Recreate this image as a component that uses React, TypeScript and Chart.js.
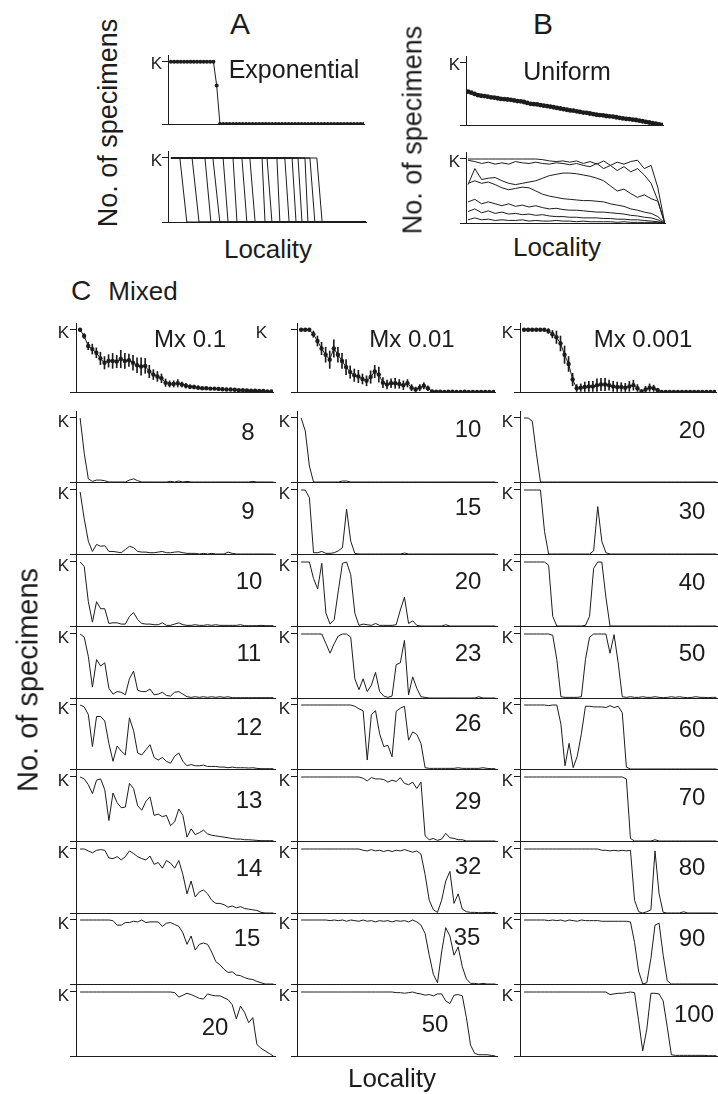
import React, { useEffect, useRef } from "react";
import { Chart, registerables } from "chart.js";
Chart.register(...registerables);

const FONT = "'Liberation Sans', Arial, Helvetica, sans-serif";
const INK = "#1c1c1c";
const YMAX = 71 / 64;

// ---------- Panel A (exponential) ----------
const expMean = [1, 1, 1, 1, 1, 1, 1, 1, 1, 1, 1, 1, 1, 1, 0.62, 0, 0, 0, 0, 0, 0, 0, 0, 0, 0, 0, 0, 0, 0, 0, 0, 0, 0, 0, 0, 0, 0, 0, 0, 0, 0, 0, 0, 0, 0, 0, 0, 0, 0, 0, 0, 0, 0, 0, 0, 0, 0, 0, 0, 0];
const expFrontStart = [2.7, 6.4, 10.3, 12.7, 15.8, 18.8, 21.5, 23.9, 27.6, 29.1, 32.1, 34.5, 36.7, 38.5, 40.6, 42.1, 44.2];
const expFrontEnd = [4.8, 8.5, 12.1, 14.8, 17.3, 20.0, 23.0, 25.5, 28.5, 30.6, 33.0, 35.8, 37.9, 39.7, 41.5, 43.6, 45.8];
const expLastLocality = 59;

// ---------- Panel B (uniform) ----------
const uniMean = [0.535, 0.52, 0.5, 0.48, 0.47, 0.465, 0.455, 0.445, 0.44, 0.43, 0.42, 0.415, 0.41, 0.405, 0.395, 0.385, 0.38, 0.37, 0.355, 0.34, 0.335, 0.33, 0.32, 0.31, 0.305, 0.295, 0.285, 0.275, 0.265, 0.255, 0.245, 0.235, 0.23, 0.22, 0.21, 0.2, 0.195, 0.185, 0.175, 0.165, 0.16, 0.155, 0.145, 0.14, 0.135, 0.125, 0.115, 0.105, 0.1, 0.095, 0.085, 0.08, 0.07, 0.06, 0.05, 0.04, 0.03, 0.02, 0.01, 0.0];
const uni1 = [1, 1, 1, 1, 1, 1, 1, 1, 1, 1, 1, 0.99, 0.97, 0.96, 0.97, 0.95, 0.97, 0.93, 0.96, 0.92, 0.97, 0.9, 0.95, 0.92, 0.96, 0.98, 0.85, 0.9, 0.55, 0];
const uni2 = [0.98, 0.96, 0.93, 0.95, 0.92, 0.94, 0.92, 0.96, 0.94, 0.93, 0.95, 0.93, 0.92, 0.94, 0.93, 0.91, 0.93, 0.9, 0.88, 0.93, 0.85, 0.9, 0.82, 0.88, 0.8, 0.85, 0.75, 0.62, 0.35, 0];
const uni3 = [0.6, 0.85, 0.68, 0.7, 0.71, 0.66, 0.62, 0.6, 0.62, 0.64, 0.66, 0.7, 0.74, 0.76, 0.78, 0.78, 0.77, 0.75, 0.73, 0.7, 0.66, 0.58, 0.5, 0.53, 0.46, 0.4, 0.44, 0.38, 0.34, 0];
const uni4 = [0.62, 0.66, 0.62, 0.64, 0.6, 0.55, 0.52, 0.54, 0.56, 0.55, 0.5, 0.45, 0.42, 0.4, 0.38, 0.37, 0.36, 0.35, 0.35, 0.34, 0.33, 0.3, 0.28, 0.26, 0.22, 0.2, 0.17, 0.15, 0.1, 0];
const uni5 = [0.33, 0.37, 0.3, 0.33, 0.3, 0.27, 0.3, 0.26, 0.28, 0.25, 0.27, 0.24, 0.22, 0.23, 0.21, 0.2, 0.2, 0.19, 0.18, 0.17, 0.17, 0.16, 0.15, 0.14, 0.12, 0.11, 0.09, 0.08, 0.05, 0];
const uni6 = [0.18, 0.22, 0.16, 0.19, 0.15, 0.17, 0.14, 0.15, 0.13, 0.14, 0.12, 0.13, 0.11, 0.1, 0.1, 0.09, 0.09, 0.08, 0.08, 0.08, 0.07, 0.07, 0.06, 0.06, 0.05, 0.05, 0.04, 0.03, 0.02, 0];
const uni7 = [0.05, 0.08, 0.05, 0.06, 0.04, 0.05, 0.04, 0.04, 0.05, 0.03, 0.04, 0.03, 0.03, 0.04, 0.03, 0.03, 0.02, 0.03, 0.02, 0.02, 0.02, 0.02, 0.01, 0.02, 0.01, 0.01, 0.01, 0.01, 0.01, 0];

// ---------- Panel C (mixed) : mean +/- error, top row ----------
const mx01Mean = [1.0, 0.9, 0.74, 0.69, 0.63, 0.54, 0.47, 0.5, 0.5, 0.49, 0.53, 0.5, 0.51, 0.47, 0.43, 0.41, 0.42, 0.33, 0.28, 0.25, 0.22, 0.15, 0.13, 0.13, 0.14, 0.12, 0.1, 0.085, 0.08, 0.07, 0.06, 0.06, 0.055, 0.055, 0.05, 0.045, 0.04, 0.04, 0.035, 0.03, 0.03, 0.025, 0.02, 0.02, 0.015, 0.015, 0.01, 0.01];
const mx01Err = [0.02, 0.04, 0.06, 0.08, 0.08, 0.1, 0.1, 0.1, 0.12, 0.1, 0.14, 0.12, 0.1, 0.12, 0.12, 0.14, 0.12, 0.1, 0.08, 0.08, 0.07, 0.06, 0.05, 0.05, 0.06, 0.04, 0.04, 0.03, 0.03, 0.03, 0.02, 0.02, 0.02, 0.02, 0.02, 0.02, 0.015, 0.015, 0.01, 0.01, 0.01, 0.01, 0.01, 0.01, 0.005, 0.005, 0.005, 0.005];
const mx001Mean = [1, 1, 1, 0.93, 0.82, 0.7, 0.6, 0.52, 0.7, 0.6, 0.5, 0.4, 0.32, 0.27, 0.25, 0.21, 0.18, 0.24, 0.33, 0.28, 0.15, 0.12, 0.14, 0.14, 0.13, 0.11, 0.14, 0.07, 0.04, 0.07, 0.1, 0.06, 0.01, 0.005, 0.005, 0, 0.005, 0.005, 0, 0, 0.005, 0, 0, 0, 0, 0, 0, 0];
const mx001Err = [0.01, 0.01, 0.02, 0.05, 0.08, 0.1, 0.12, 0.14, 0.14, 0.12, 0.12, 0.12, 0.1, 0.1, 0.1, 0.08, 0.08, 0.1, 0.1, 0.12, 0.08, 0.07, 0.07, 0.08, 0.07, 0.07, 0.06, 0.05, 0.04, 0.05, 0.05, 0.04, 0.02, 0, 0, 0, 0, 0, 0, 0, 0, 0, 0, 0, 0, 0, 0, 0];
const mx0001Mean = [1, 1, 1, 1, 1, 1, 0.98, 0.93, 0.88, 0.78, 0.6, 0.45, 0.2, 0.06, 0.07, 0.08, 0.09, 0.09, 0.11, 0.12, 0.12, 0.11, 0.09, 0.08, 0.08, 0.07, 0.09, 0.11, 0.06, 0.01, 0.04, 0.07, 0.06, 0.03, 0, 0, 0, 0, 0, 0, 0, 0, 0, 0, 0, 0, 0, 0];
const mx0001Err = [0.005, 0.005, 0.005, 0.005, 0.01, 0.02, 0.04, 0.06, 0.1, 0.12, 0.14, 0.12, 0.1, 0.06, 0.06, 0.08, 0.08, 0.08, 0.1, 0.1, 0.1, 0.08, 0.08, 0.08, 0.07, 0.07, 0.08, 0.08, 0.06, 0.03, 0.05, 0.06, 0.05, 0.03, 0, 0, 0, 0, 0, 0, 0, 0, 0, 0, 0, 0, 0, 0];

// ---------- Panel C : single runs, Mx 0.1 ----------
const c1t8 = [1.0, 0.45, 0.05, 0.01, 0.03, 0.03, 0.02, 0, 0, 0, 0, 0, 0.03, 0.05, 0.02, 0, 0, 0, 0, 0, 0, 0, 0.01, 0, 0.015, 0, 0.01, 0, 0, 0, 0, 0, 0, 0, 0, 0, 0, 0, 0, 0, 0, 0, 0.01, 0, 0, 0, 0, 0];
const c1t9 = [0.97, 0.55, 0.2, 0.04, 0.15, 0.12, 0.13, 0.04, 0.04, 0.03, 0.02, 0.07, 0.12, 0.1, 0.04, 0.03, 0.03, 0.02, 0.02, 0.03, 0.04, 0.02, 0.02, 0.03, 0.035, 0.02, 0.01, 0.01, 0.01, 0, 0.01, 0, 0.01, 0, 0, 0, 0.03, 0.01, 0, 0, 0, 0, 0, 0, 0, 0, 0, 0];
const c1t10 = [1.0, 0.93, 0.38, 0.06, 0.38, 0.27, 0.27, 0.04, 0.05, 0.05, 0.03, 0.03, 0.15, 0.21, 0.1, 0.04, 0.03, 0.03, 0.02, 0.02, 0.05, 0.01, 0.01, 0.03, 0.05, 0.02, 0.01, 0.01, 0.02, 0.01, 0.01, 0.02, 0.01, 0.02, 0.01, 0.01, 0.01, 0.01, 0.01, 0.02, 0.005, 0.005, 0.005, 0.005, 0.01, 0.005, 0.005, 0.005];
const c1t11 = [1.0, 0.95, 0.65, 0.17, 0.6, 0.5, 0.55, 0.15, 0.06, 0.1, 0.09, 0.05, 0.3, 0.42, 0.12, 0.1, 0.1, 0.14, 0.05, 0.06, 0.09, 0.04, 0.03, 0.09, 0.1, 0.06, 0.02, 0.01, 0.02, 0.01, 0.02, 0.01, 0.02, 0.01, 0.02, 0.01, 0.02, 0.005, 0.005, 0.005, 0.005, 0.005, 0.005, 0.005, 0.005, 0.005, 0.005, 0.005];
const c1t12 = [1.0, 0.97, 0.85, 0.35, 0.82, 0.82, 0.75, 0.4, 0.12, 0.36, 0.28, 0.22, 0.8, 0.6, 0.25, 0.22, 0.3, 0.38, 0.18, 0.14, 0.18, 0.12, 0.09, 0.2, 0.25, 0.12, 0.05, 0.07, 0.05, 0.05, 0.06, 0.04, 0.04, 0.04, 0.03, 0.03, 0.02, 0.03, 0.02, 0.02, 0.02, 0.015, 0.02, 0.01, 0.005, 0.005, 0.005, 0.005];
const c1t13 = [1.0, 0.97, 0.88, 0.74, 0.95, 0.97, 0.8, 0.32, 0.75, 0.6, 0.52, 0.53, 0.9, 0.82, 0.55, 0.48, 0.62, 0.69, 0.4, 0.42, 0.38, 0.4, 0.24, 0.3, 0.5, 0.4, 0.06, 0.19, 0.1, 0.13, 0.17, 0.11, 0.09, 0.08, 0.07, 0.06, 0.05, 0.04, 0.03, 0.03, 0.02, 0.02, 0.015, 0.01, 0.005, 0.005, 0.005, 0.005];
const c1t14 = [1.0, 1.0, 0.97, 0.94, 0.98, 0.99, 0.98, 0.86, 0.85, 0.88, 0.83, 0.88, 0.97, 0.93, 0.88, 0.85, 0.83, 0.89, 0.76, 0.79, 0.7, 0.82, 0.78, 0.7, 0.82, 0.6, 0.3, 0.5, 0.25, 0.33, 0.36, 0.3, 0.2, 0.15, 0.15, 0.13, 0.09, 0.11, 0.08, 0.1, 0.07, 0.06, 0.05, 0.04, 0.01, 0, 0, 0];
const c1t15 = [1, 1, 1, 1, 1, 1, 1, 1.0, 0.99, 0.92, 0.92, 0.96, 0.96, 0.98, 0.97, 1.0, 0.96, 0.97, 0.97, 0.97, 0.9, 0.95, 0.96, 0.93, 0.9, 0.8, 0.62, 0.75, 0.53, 0.62, 0.64, 0.62, 0.5, 0.35, 0.3, 0.23, 0.18, 0.19, 0.14, 0.13, 0.1, 0.08, 0.07, 0.04, 0.02, 0, 0, 0];
const c1t20 = [1, 1, 1, 1, 1, 1, 1, 1, 1, 1, 1, 1, 1, 1, 1, 1, 1, 1, 1, 1, 1, 1, 1, 0.99, 0.92, 0.95, 0.98, 0.96, 0.93, 0.9, 0.89, 0.97, 0.95, 0.94, 0.94, 0.91, 0.88, 0.8, 0.58, 0.78, 0.68, 0.52, 0.6, 0.18, 0.12, 0.08, 0.04, 0.0];

// ---------- Panel C : single runs, Mx 0.01 ----------
const c2t10 = [1.0, 0.8, 0.25, 0, 0, 0, 0, 0, 0, 0, 0.015, 0.015, 0, 0, 0, 0, 0, 0, 0, 0, 0, 0, 0, 0, 0, 0, 0, 0, 0, 0, 0, 0, 0, 0, 0, 0, 0, 0, 0, 0, 0, 0, 0, 0, 0, 0, 0, 0];
const c2t15 = [1.0, 1.0, 0.88, 0.02, 0.02, 0.04, 0.01, 0.01, 0.02, 0.05, 0.1, 0.7, 0.2, 0.01, 0, 0, 0, 0, 0, 0, 0, 0, 0, 0, 0, 0.015, 0, 0, 0, 0, 0, 0, 0, 0, 0, 0, 0, 0, 0, 0, 0, 0, 0, 0, 0, 0, 0, 0];
const c2t20 = [1.0, 1.0, 1.0, 0.74, 0.58, 0.98, 0.2, 0.03, 0.1, 0.55, 0.98, 1.0, 0.8, 0.2, 0.01, 0.03, 0.02, 0.01, 0.04, 0.01, 0.01, 0.01, 0.01, 0.02, 0.25, 0.45, 0.04, 0.08, 0.01, 0, 0, 0, 0, 0, 0, 0.02, 0, 0, 0, 0, 0, 0, 0, 0, 0, 0, 0, 0];
const c2t23 = [1, 1, 1, 1, 1, 1, 0.85, 0.7, 0.85, 0.97, 1.0, 1.0, 0.95, 0.3, 0.13, 0.3, 0.1, 0.2, 0.4, 0.1, 0.03, 0.01, 0.03, 0.52, 0.55, 0.9, 0.05, 0.33, 0.15, 0.02, 0.01, 0, 0, 0, 0, 0, 0, 0, 0, 0, 0, 0, 0, 0.02, 0, 0, 0, 0];
const c2t26 = [1, 1, 1, 1, 1, 1, 1, 1, 1, 1, 1, 1, 1, 0.98, 0.94, 0.91, 0.14, 0.85, 0.91, 0.55, 0.35, 0.37, 0.19, 0.9, 0.95, 0.98, 0.45, 0.58, 0.54, 0.4, 0.02, 0.01, 0.01, 0.01, 0.01, 0.01, 0.01, 0.01, 0.02, 0.01, 0.01, 0.01, 0.01, 0.01, 0.02, 0.01, 0.005, 0.005];
const c2t29 = [1, 1, 1, 1, 1, 1, 1, 1, 1, 1, 1, 1, 1, 1, 1, 0.98, 0.94, 0.99, 0.97, 0.97, 0.96, 0.92, 0.95, 0.93, 0.99, 0.9, 0.88, 0.92, 0.82, 0.92, 0.08, 0.02, 0.04, 0.01, 0.03, 0.12, 0.05, 0.04, 0.02, 0.02, 0, 0, 0, 0, 0, 0, 0, 0];
const c2t32 = [1, 1, 1, 1, 1, 1, 1, 1, 1, 1, 1, 1, 1, 1, 1, 0.98, 0.97, 0.99, 0.97, 0.98, 0.96, 0.98, 0.96, 0.98, 0.97, 0.99, 0.97, 0.95, 0.97, 0.92, 0.6, 0.2, 0.05, 0.01, 0.2, 0.5, 0.65, 0.15, 0.3, 0.06, 0.02, 0.01, 0.01, 0.005, 0.005, 0.01, 0.005, 0.01];
const c2t35 = [1, 1, 1, 1, 1, 1, 1, 0.99, 1.0, 0.99, 1.0, 0.98, 1.0, 0.99, 0.98, 1.0, 0.98, 0.99, 0.97, 0.99, 0.98, 0.99, 0.97, 0.99, 0.98, 0.99, 0.97, 1.0, 0.97, 0.92, 0.79, 0.45, 0.15, 0.02, 0.5, 0.88, 0.75, 0.45, 0.58, 0.27, 0.08, 0.01, 0.01, 0, 0.01, 0, 0, 0];
const c2t50 = [1, 1, 1, 1, 1, 1, 1, 1, 1, 1, 1, 1, 1, 1, 1, 1, 1, 1, 1, 1, 1, 1, 1, 0.99, 0.99, 0.98, 0.99, 1.0, 0.98, 0.97, 0.95, 0.96, 0.94, 0.97, 0.97, 0.86, 0.82, 0.95, 0.96, 0.94, 0.6, 0.17, 0.04, 0.02, 0.02, 0.02, 0.01, 0];

// ---------- Panel C : single runs, Mx 0.001 ----------
const c3t20 = [1.0, 1.0, 0.95, 0.45, 0, 0, 0, 0, 0, 0, 0, 0, 0, 0, 0, 0, 0, 0, 0, 0, 0, 0, 0, 0, 0, 0, 0, 0, 0, 0, 0, 0, 0, 0, 0, 0, 0, 0, 0, 0, 0, 0, 0, 0, 0, 0, 0, 0];
const c3t30 = [1, 1, 1, 1, 1, 0.35, 0, 0, 0, 0, 0, 0, 0, 0, 0, 0, 0, 0.05, 0.74, 0.2, 0.02, 0, 0, 0, 0, 0, 0, 0, 0, 0, 0, 0, 0, 0, 0, 0, 0, 0, 0, 0, 0, 0, 0, 0, 0, 0, 0, 0];
const c3t40 = [1, 1, 1, 1, 1, 1, 0.95, 0.15, 0, 0, 0, 0, 0, 0, 0, 0.01, 0.15, 0.9, 1.0, 1.0, 0.45, 0, 0, 0, 0, 0, 0, 0, 0, 0, 0, 0, 0, 0, 0, 0, 0, 0, 0, 0, 0, 0, 0, 0, 0, 0, 0, 0];
const c3t50 = [1, 1, 1, 1, 1, 1, 1, 0.98, 0.6, 0.02, 0.01, 0.01, 0.01, 0.01, 0.02, 0.6, 0.95, 1.0, 1.0, 1.0, 1.0, 0.7, 0.99, 0.55, 0.02, 0.01, 0.02, 0.01, 0.01, 0.02, 0.01, 0.01, 0.02, 0.01, 0.005, 0.01, 0.02, 0.01, 0.02, 0.01, 0.005, 0.01, 0.02, 0.01, 0.01, 0.005, 0.01, 0.01];
const c3t60 = [1, 1, 1, 1, 1, 1, 0.99, 1.0, 1.0, 0.7, 0.05, 0.4, 0.02, 0.2, 0.55, 0.98, 0.98, 0.97, 0.97, 0.97, 0.96, 0.99, 0.96, 0.98, 0.88, 0.03, 0, 0, 0, 0, 0, 0, 0, 0, 0, 0, 0, 0, 0, 0, 0, 0, 0, 0, 0, 0, 0, 0];
const c3t70 = [1, 1, 1, 1, 1, 1, 1, 1, 1, 1, 1, 1, 1, 1, 1, 1, 1, 1, 1, 1, 1, 1, 1, 1, 1, 0.97, 0.04, 0, 0, 0, 0, 0, 0.02, 0, 0, 0, 0, 0, 0, 0, 0, 0, 0, 0, 0, 0, 0, 0];
const c3t80 = [1, 1, 1, 1, 1, 1, 1, 1, 1, 1, 1, 1, 1, 1, 1, 1, 1, 1, 1, 0.98, 0.98, 0.97, 0.98, 0.97, 0.98, 0.97, 0.98, 0.2, 0.02, 0, 0.02, 0.05, 0.97, 0.3, 0.01, 0, 0, 0, 0, 0.02, 0, 0, 0, 0, 0, 0, 0, 0];
const c3t90 = [1, 1, 1, 1, 1, 1, 0.99, 1.0, 0.99, 1.0, 0.98, 1.0, 0.99, 0.98, 1.0, 0.99, 0.99, 0.99, 0.99, 0.98, 0.98, 0.98, 0.98, 0.98, 0.98, 0.98, 0.97, 0.65, 0.2, 0.0, 0.02, 0.4, 0.92, 0.95, 0.45, 0.05, 0, 0, 0, 0, 0, 0, 0, 0, 0, 0, 0, 0];
const c3t100 = [1, 1, 1, 1, 1, 1, 1, 1, 1, 1, 1, 1, 1, 1, 1, 1, 1, 1, 1, 1, 1, 0.96, 0.97, 0.98, 0.98, 0.99, 1.0, 0.99, 0.55, 0.08, 0.42, 0.98, 0.98, 0.97, 0.86, 0.45, 0.02, 0.01, 0.01, 0.01, 0.01, 0.01, 0.01, 0.01, 0.01, 0.005, 0.005, 0.005];

const mixedRuns = [
  [c1t8, c1t9, c1t10, c1t11, c1t12, c1t13, c1t14, c1t15, c1t20],
  [c2t10, c2t15, c2t20, c2t23, c2t26, c2t29, c2t32, c2t35, c2t50],
  [c3t20, c3t30, c3t40, c3t50, c3t60, c3t70, c3t80, c3t90, c3t100],
];
const mixedRunLabels = [
  ["8", "9", "10", "11", "12", "13", "14", "15", "20"],
  ["10", "15", "20", "23", "26", "29", "32", "35", "50"],
  ["20", "30", "40", "50", "60", "70", "80", "90", "100"],
];
const mixedMeans = [mx01Mean, mx001Mean, mx0001Mean];
const mixedErrs = [mx01Err, mx001Err, mx0001Err];
const mixedTitles = ["Mx 0.1", "Mx 0.01", "Mx 0.001"];

// ---------- layout (pixels) ----------
const colAxisX = [76, 297, 520];
const colRightX = [275, 497, 718];
const rowBottoms = [482, 554, 626, 698, 769, 841, 913, 984, 1056];
const runLabelPos = [
  [[248, 432], [248, 511], [249, 581], [249, 653], [249, 727], [249, 800], [249, 868], [247, 938], [215, 1027]],
  [[468, 429], [468, 507], [468, 581], [468, 653], [468, 723], [468, 801], [468, 866], [467, 937], [435, 1024]],
  [[692, 430], [692, 511], [692, 582], [692, 653], [692, 729], [692, 797], [692, 867], [692, 938], [694, 1014]],
];
const titlePos = [[190, 339], [412, 339], [643, 339]];

const toXY = (vals: number[]) => vals.map((v, i) => ({ x: i, y: v }));

const lineDs = (vals: number[]) => ({
  type: "line",
  data: toXY(vals),
  borderColor: INK,
  borderWidth: 1,
  pointRadius: 0,
  tension: 0,
  fill: false,
});

const dotDs = (vals: number[], r: number) => ({
  type: "line",
  data: toXY(vals),
  borderColor: INK,
  borderWidth: 1,
  pointRadius: r,
  pointBackgroundColor: INK,
  pointBorderWidth: 0,
  tension: 0,
  fill: false,
});

const errDs = (mean: number[], err: number[]) => ({
  type: "bar",
  data: mean.map((m, i) => ({ x: i, y: [m - err[i], m + err[i]] })),
  backgroundColor: INK,
  borderWidth: 0,
  barThickness: 1,
  grouped: false,
});

type Box = { axisX: number; rightX: number; top: number; bottom: number };

function Panel(props: { box: Box; xMin: number; xMax: number; datasets: any[]; kPad?: number; kOffset?: number }) {
  const { box, xMin, xMax, datasets } = props;
  const kPad = props.kPad ?? 1;
  const kOffset = props.kOffset ?? 4;
  const ref = useRef<HTMLCanvasElement>(null);
  const WY = 44, PT = 6, XH = 2, PR = 2;
  const left = box.axisX - WY;
  const width = box.rightX - left + PR;
  const top = box.top - PT;
  const height = box.bottom - box.top + PT + XH;
  useEffect(() => {
    const chart = new Chart(ref.current as HTMLCanvasElement, {
      type: "line",
      data: { datasets: datasets as any },
      options: {
        animation: false,
        responsive: false,
        events: [],
        layout: { padding: { top: PT, right: PR, left: 0, bottom: 0 } },
        plugins: { legend: { display: false }, tooltip: { enabled: false } },
        scales: {
          x: {
            type: "linear",
            min: xMin,
            max: xMax,
            offset: false,
            ticks: { display: false },
            grid: { display: false },
            border: { display: true, color: INK, width: 1 },
            afterFit: (s: any) => { s.height = XH; s.paddingLeft = 0; s.paddingRight = 0; },
          },
          y: {
            type: "linear",
            min: 0,
            max: YMAX,
            afterBuildTicks: (s: any) => { s.ticks = [{ value: 0 }, { value: 1 }]; },
            ticks: {
              autoSkip: false,
              callback: (v: any) => (v === 1 ? "K" : ""),
              font: { family: FONT, size: 17 },
              color: INK,
              padding: kPad,
              labelOffset: kOffset,
            },
            grid: { drawOnChartArea: false, drawTicks: true, tickLength: 6, color: INK, lineWidth: 1 },
            border: { display: true, color: INK, width: 1 },
            afterFit: (s: any) => { s.width = WY; s.paddingTop = 0; s.paddingBottom = 0; },
          },
        },
      } as any,
    });
    return () => chart.destroy();
  }, []);
  return (
    <canvas
      ref={ref}
      width={width}
      height={height}
      style={{ position: "absolute", left, top, width, height }}
    />
  );
}

function Txt(props: { x: number; y: number; size: number; rotate?: boolean; children: any }) {
  const { x, y, size, rotate, children } = props;
  return (
    <div
      style={{
        position: "absolute",
        left: x,
        top: y,
        transform: `translate(-50%, -50%)${rotate ? " rotate(-90deg)" : ""}`,
        fontFamily: FONT,
        fontSize: size,
        lineHeight: 1,
        whiteSpace: "nowrap",
        color: INK,
      }}
    >
      {children}
    </div>
  );
}

export default function App() {
  const expFronts = expFrontStart.map((s, i) => ({
    type: "line",
    data: [
      { x: 0, y: 1 },
      { x: s, y: 1 },
      { x: expFrontEnd[i], y: 0 },
      { x: expLastLocality, y: 0 },
    ],
    borderColor: INK,
    borderWidth: 1,
    pointRadius: 0,
    tension: 0,
  }));
  const uniRuns = [uni1, uni2, uni3, uni4, uni5, uni6, uni7].map(lineDs);

  const panels: any[] = [];
  panels.push(<Panel key="a1" box={{ axisX: 168, rightX: 366, top: 55, bottom: 126 }} xMin={-0.9} xMax={59.1} datasets={[dotDs(expMean, 2)]} kPad={0} kOffset={3} />);
  panels.push(<Panel key="a2" box={{ axisX: 168, rightX: 366, top: 151, bottom: 222 }} xMin={-0.9} xMax={59.1} datasets={expFronts} kPad={0} kOffset={3} />);
  panels.push(<Panel key="b1" box={{ axisX: 466, rightX: 665, top: 56, bottom: 127 }} xMin={-0.6} xMax={59.2} datasets={[dotDs(uniMean, 2.4)]} kPad={0} kOffset={3} />);
  panels.push(<Panel key="b2" box={{ axisX: 466, rightX: 665, top: 152, bottom: 223 }} xMin={-0.3} xMax={29.05} datasets={uniRuns} kPad={0} kOffset={3} />);

  for (let c = 0; c < 3; c++) {
    panels.push(
      <Panel
        key={`ct${c}`}
        box={{ axisX: colAxisX[c], rightX: colRightX[c], top: 323, bottom: 394 }}
        xMin={-1}
        xMax={47.4}
        datasets={[dotDs(mixedMeans[c], 2.2), errDs(mixedMeans[c], mixedErrs[c])]}
        kPad={c === 1 ? 24 : 1}
        kOffset={4}
      />
    );
    for (let r = 0; r < 9; r++) {
      panels.push(
        <Panel
          key={`c${c}r${r}`}
          box={{ axisX: colAxisX[c], rightX: colRightX[c], top: rowBottoms[r] - 71, bottom: rowBottoms[r] }}
          xMin={-1}
          xMax={47.4}
          datasets={[lineDs(mixedRuns[c][r])]}
          kPad={1}
          kOffset={4}
        />
      );
    }
  }

  const labels: any[] = [];
  for (let c = 0; c < 3; c++) {
    labels.push(<Txt key={`t${c}`} x={titlePos[c][0]} y={titlePos[c][1]} size={24}>{mixedTitles[c]}</Txt>);
    for (let r = 0; r < 9; r++) {
      labels.push(
        <Txt key={`l${c}${r}`} x={runLabelPos[c][r][0]} y={runLabelPos[c][r][1]} size={24}>
          {mixedRunLabels[c][r]}
        </Txt>
      );
    }
  }

  return (
    <div style={{ position: "absolute", left: 0, top: 0, width: 718, height: 1094, overflow: "hidden", background: "#fff" }}>
      {panels}
      <Txt x={240} y={24} size={30}>A</Txt>
      <Txt x={543} y={24} size={30}>B</Txt>
      <Txt x={294} y={69} size={25}>Exponential</Txt>
      <Txt x={567} y={71} size={25}>Uniform</Txt>
      <Txt x={108} y={123} size={27} rotate>No. of specimens</Txt>
      <Txt x={413} y={130} size={27} rotate>No. of specimens</Txt>
      <Txt x={268} y={249} size={26}>Locality</Txt>
      <Txt x={557} y={247} size={26}>Locality</Txt>
      <Txt x={81} y={291} size={28}>C</Txt>
      <Txt x={143} y={291} size={26}>Mixed</Txt>
      <Txt x={28} y={680} size={29} rotate>No. of specimens</Txt>
      <Txt x={392} y={1078} size={26}>Locality</Txt>
      {labels}
    </div>
  );
}
